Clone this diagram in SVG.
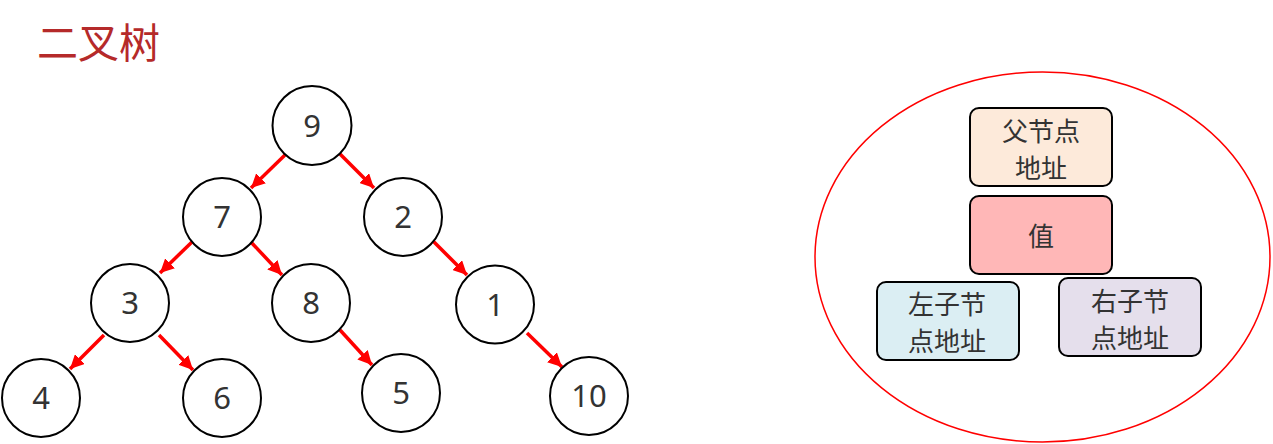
<svg xmlns="http://www.w3.org/2000/svg" width="1273" height="444" viewBox="0 0 1273 444">
<style>
.n circle{fill:#fff;stroke:#000;stroke-width:2}
.n text{font-family:"Noto Sans","DejaVu Sans",sans-serif;font-size:31px;fill:#333;text-anchor:middle}
.e line{stroke:#f00;stroke-width:3.5;marker-end:url(#ah)}
.b rect{stroke:#000;stroke-width:2}
.b text{font-family:"Noto Sans CJK SC","Noto Sans",sans-serif;font-size:26px;fill:#333;text-anchor:middle;dominant-baseline:central}
</style>
<defs>
<marker id="ah" markerUnits="userSpaceOnUse" markerWidth="16" markerHeight="14" refX="14" refY="7" orient="auto">
<path d="M0,0 L14,7 L0,14 Z" fill="#f00"/>
</marker>
</defs>
<rect width="1273" height="444" fill="#fff"/>
<text id="title" x="37" y="58" font-family="'Noto Sans CJK SC',sans-serif" font-size="41" fill="#B52A2A">二叉树</text>
<g id="edges" class="e">
<line x1="285" y1="155" x2="251" y2="188"/>
<line x1="340" y1="154" x2="374" y2="188"/>
<line x1="193" y1="241" x2="160" y2="273"/>
<line x1="249" y1="240" x2="282" y2="275"/>
<line x1="433" y1="241" x2="467" y2="275"/>
<line x1="104" y1="335" x2="70" y2="369"/>
<line x1="159" y1="335" x2="193" y2="370"/>
<line x1="340" y1="330" x2="372" y2="365"/>
<line x1="527" y1="333" x2="562" y2="367"/>
</g>
<g id="n9" class="n"><circle cx="312" cy="125.5" r="39.5"/><text x="312" y="136.5">9</text></g>
<g id="n7" class="n"><circle cx="222" cy="217" r="39"/><text x="222" y="228">7</text></g>
<g id="n2" class="n"><circle cx="403" cy="217" r="39"/><text x="403" y="228">2</text></g>
<g id="n3" class="n"><circle cx="130" cy="303" r="39"/><text x="130" y="314">3</text></g>
<g id="n8" class="n"><circle cx="311" cy="303" r="39"/><text x="311" y="314">8</text></g>
<g id="n1" class="n"><circle cx="495" cy="304.5" r="39"/><text x="495" y="315.5">1</text></g>
<g id="n4" class="n"><circle cx="41" cy="398" r="39"/><text x="41" y="409">4</text></g>
<g id="n6" class="n"><circle cx="222" cy="398" r="39"/><text x="222" y="409">6</text></g>
<g id="n5" class="n"><circle cx="401" cy="393" r="39"/><text x="401" y="404">5</text></g>
<g id="n10" class="n"><circle cx="589" cy="396" r="39"/><text x="589" y="407">10</text></g>
<g id="struct">
<ellipse cx="1042.5" cy="257" rx="227.5" ry="185" fill="none" stroke="#f00" stroke-width="1.5"/>
</g>
<g id="parent" class="b"><rect x="970" y="108" width="142" height="78" rx="9" fill="#FDEADA"/><text x="1041" y="129">父节点</text><text x="1041" y="166">地址</text></g>
<g id="value" class="b"><rect x="970" y="196" width="142" height="78" rx="9" fill="#FFB7B7"/><text x="1041" y="234">值</text></g>
<g id="left" class="b"><rect x="877" y="282" width="142" height="78" rx="9" fill="#DBEEF3"/><text x="947" y="302">左子节</text><text x="947" y="339">点地址</text></g>
<g id="right" class="b"><rect x="1059" y="278" width="142" height="78" rx="9" fill="#E5DFEC"/><text x="1130" y="299">右子节</text><text x="1130" y="336">点地址</text></g>
</svg>
